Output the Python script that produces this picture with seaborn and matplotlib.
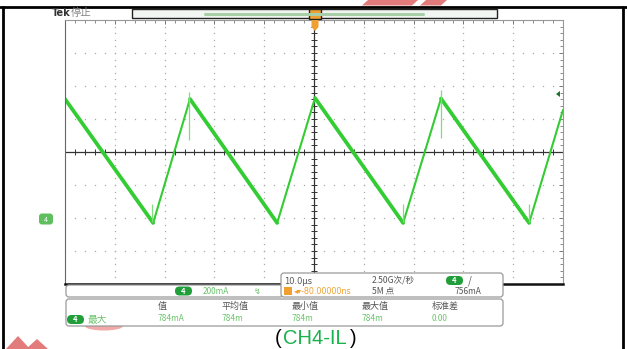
import matplotlib
matplotlib.use("Agg")
import matplotlib.pyplot as plt
import numpy as np
import pandas as pd
import seaborn as sns
from matplotlib.patches import FancyBboxPatch, Rectangle, Polygon, Ellipse

# ── Data (CH4 inductor current, 10 µs/div, 200 mA/div) ──────────────────────
time_us = [0.0, 17.7, 25.1, 42.6, 50.2, 67.9, 75.5, 93.2, 100.0]
current_ma = [721, -30, 721, -30, 727, -30, 724, -30, 655]

# small switching glitches
spike_t = [17.5, 24.9, 67.9, 75.5, 93.2]
spike_lo = [-24, 473, -24, 485, -24]
spike_hi = [85, 764, 85, 776, 85]

meas_headers = ["值", "平均值", "最小值", "最大值", "标准差"]
meas_values = ["784mA", "784m", "784m", "784m", "0.00"]
meas_x = [158, 222, 292, 362, 432]

GREEN = "#33cc33"
PILL = "#1f9e3a"
TXT = "#555555"
VAL = "#6cc46c"
ORANGE = "#f0a030"
PINK = "#e27b7b"

sns.set_style("white")
plt.rcParams["font.family"] = ["Noto Sans CJK SC", "DejaVu Sans"]

fig = plt.figure(figsize=(6.27, 3.49), dpi=100)
W, H = 627, 349
ax = fig.add_axes([65 / W, 1 - 284 / H, 498 / W, 264 / H])

# ── Graticule ────────────────────────────────────────────────────────────────
ax.set_xlim(0, 100)
ax.set_ylim(-400, 1200)
ax.set_xticks(np.arange(0, 101, 10))
ax.set_xticks(np.arange(0, 101, 2), minor=True)
ax.set_yticks(np.arange(-400, 1201, 200))
ax.set_yticks(np.arange(-400, 1201, 40), minor=True)
ax.tick_params(which="both", direction="in", top=True, right=True,
               labelbottom=False, labelleft=False, color="#777777")
ax.tick_params(which="major", length=3, width=0.7)
ax.tick_params(which="minor", length=2, width=0.6)
for s in ["top", "right", "left"]:
    ax.spines[s].set_color("#999999")
    ax.spines[s].set_linewidth(0.8)
ax.spines["left"].set_color("#666666")
ax.spines["bottom"].set_color("#111111")
ax.spines["bottom"].set_linewidth(1.8)

minor_x = np.arange(0, 101, 2)
minor_y = np.arange(-400, 1201, 40)
for gx in range(10, 100, 10):
    if gx == 50:
        continue
    ax.plot([gx] * len(minor_y), minor_y, ls="none", marker="s",
            ms=0.9, color="#aaaaaa", mew=0)
for gy in range(-200, 1200, 200):
    if gy == 400:
        continue
    ax.plot(minor_x, [gy] * len(minor_x), ls="none", marker="s",
            ms=0.9, color="#aaaaaa", mew=0)

ax.axhline(400, color="#333333", lw=0.9)
ax.axvline(50, color="#333333", lw=0.9)
ax.plot(minor_x, [400] * len(minor_x), ls="none", marker="|", ms=4,
        color="#333333", mew=0.7)
ax.plot([50] * len(minor_y), minor_y, ls="none", marker="_", ms=4,
        color="#333333", mew=0.7)

# ── Waveform ─────────────────────────────────────────────────────────────────
wave = pd.DataFrame({"t": time_us, "i": current_ma})
sns.lineplot(data=wave, x="t", y="i", ax=ax, color=GREEN, lw=1.5,
             estimator=None, sort=False)

# falling ramps are drawn heavier on the scope
fall_rows = []
for k in range(len(time_us) - 1):
    if current_ma[k + 1] < current_ma[k]:
        fall_rows.append({"seg": k, "t": time_us[k], "i": current_ma[k]})
        fall_rows.append({"seg": k, "t": time_us[k + 1], "i": current_ma[k + 1]})
fall = pd.DataFrame(fall_rows)
sns.lineplot(data=fall, x="t", y="i", units="seg", estimator=None, ax=ax,
             color=GREEN, lw=2.7, sort=False)
ax.vlines(spike_t, spike_lo, spike_hi, color="#7fdc7f", lw=0.9)
ax.set_xlabel("")
ax.set_ylabel("")

# ── Overlay in pixel coordinates ─────────────────────────────────────────────
ov = fig.add_axes([0, 0, 1, 1], zorder=5)
ov.set_xlim(0, W)
ov.set_ylim(H, 0)
ov.axis("off")
ov.patch.set_alpha(0)

# document frame
ov.plot([0, W], [6.5, 6.5], color="black", lw=2)
ov.plot([3, 3], [6.5, H], color="black", lw=2)
ov.plot([623, 623], [6.5, H], color="black", lw=2)

# watermark fragments
ov.add_patch(Polygon([(362, 5.5), (368, 0), (418, 0), (412, 5.5)],
                     closed=True, color=PINK, lw=0))
ov.add_patch(Polygon([(420, 5.5), (426, 0), (447, 0), (441, 5.5)],
                     closed=True, color=PINK, lw=0))
ov.add_patch(Polygon([(6, H), (18, 336), (30, H)], closed=True, color=PINK, lw=0))
ov.add_patch(Polygon([(26, H), (37, 339), (48, H)], closed=True, color=PINK, lw=0))
ov.add_patch(Ellipse((104, 326), 38, 9, color="#f0a8a8", lw=0, zorder=0))

# record-view bar
ov.add_patch(Rectangle((132, 9), 365, 9, facecolor="#f2f6f2",
                       edgecolor="#222222", lw=1.0))
ov.plot([205, 423], [13.5, 13.5], color="#a9cfa9", lw=2.2)
ov.add_patch(Rectangle((309, 8.5), 12, 10, facecolor=ORANGE,
                       edgecolor="#222222", lw=1.0))
ov.add_patch(Polygon([(311.5, 20), (318.5, 20), (318.5, 27), (315, 31), (311.5, 27)],
                     closed=True, color=ORANGE, lw=0))
ov.text(52, 17.5, "Tek", fontsize=7, fontweight="bold", color="#333333",
        va="bottom", family="DejaVu Sans")
ov.text(70.5, 18, "停止", fontsize=7.5, color="#888888", va="bottom")

# channel / trigger markers
ov.add_patch(FancyBboxPatch((39, 213.5), 14, 11,
                            boxstyle="round,pad=0,rounding_size=3",
                            facecolor="#5fbf5f", edgecolor="none"))
ov.text(46, 219.5, "4", fontsize=5, color="white", ha="center", va="center")
ov.add_patch(Polygon([(556, 94), (560, 91), (560, 97)], closed=True,
                     color="#1f6f2f", lw=0))


def pill(x, y):
    ov.add_patch(FancyBboxPatch((x, y), 17, 9,
                                boxstyle="round,pad=0,rounding_size=4.5",
                                facecolor=PILL, edgecolor="none"))
    ov.text(x + 8.5, y + 4.7, "4", fontsize=5.5, color="white",
            ha="center", va="center", fontweight="bold")


# channel scale box
ov.add_patch(FancyBboxPatch((66, 285), 217, 12,
                            boxstyle="round,pad=0,rounding_size=3",
                            facecolor="white", edgecolor="#9a9a9a", lw=0.9))
pill(175, 286.5)
ov.text(203, 291.5, "200mA", fontsize=6, color=VAL, va="center")
ov.text(254, 291, "↯", fontsize=6, color=VAL, va="center", family="DejaVu Sans")

# timebase / trigger box
ov.add_patch(FancyBboxPatch((281, 273), 222, 24,
                            boxstyle="round,pad=0,rounding_size=3",
                            facecolor="white", edgecolor="#9a9a9a", lw=0.9))
ov.text(284, 281, "10.0µs", fontsize=6, color=TXT, va="center",
        family="DejaVu Sans")
ov.add_patch(Rectangle((284, 287), 8, 8, facecolor=ORANGE, edgecolor="none"))
ov.text(294, 291, "◂▾-80.00000ns", fontsize=5.8, color=ORANGE, va="center",
        family="DejaVu Sans")
ov.text(372, 280.5, "2.50G次/秒", fontsize=6.2, color=TXT, va="center")
ov.text(372, 291, "5M 点", fontsize=6.2, color=TXT, va="center")
pill(446, 276)
ov.text(468, 280.5, "/", fontsize=7, color=TXT, va="center")
ov.text(455, 291, "756mA", fontsize=6, color=TXT, va="center")

# measurement box
ov.add_patch(FancyBboxPatch((66, 299), 437, 27,
                            boxstyle="round,pad=0,rounding_size=3",
                            facecolor="white", edgecolor="#9a9a9a", lw=0.9))
for mx, hdr, val in zip(meas_x, meas_headers, meas_values):
    ov.text(mx, 306.5, hdr, fontsize=6.5, color=TXT, va="center")
    ov.text(mx, 318.5, val, fontsize=6, color=VAL, va="center")
pill(67, 315)
ov.text(88, 320, "最大", fontsize=7, color=VAL, va="center")

# caption
cap_font = dict(fontsize=14.5, va="baseline", family="Liberation Sans")
ov.text(275, 344.5, "(", color="black", **cap_font)
ov.text(283, 344.5, "CH4-IL", color="#19b24a", **cap_font)
ov.text(350, 344.5, ")", color="black", **cap_font)

fig.savefig("out.png", dpi=100)
